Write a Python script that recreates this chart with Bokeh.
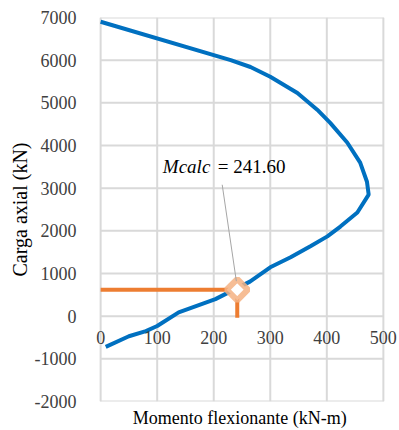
import math
from bokeh.plotting import figure
from bokeh.models import Range1d, FixedTicker, PrintfTickFormatter, ColumnDataSource, LabelSet
from bokeh.core.properties import value
from bokeh.embed import file_html
from bokeh.resources import INLINE

# Interaction diagram (Momento, Carga axial)
momento = [0, 230, 265, 300, 348, 383, 406, 436, 459, 471, 474, 454, 424, 401,
           371, 336, 300, 264, 203, 138, 100, 80, 50, 9]
carga = [6900, 6000, 5840, 5610, 5230, 4840, 4530, 4070, 3600, 3150, 2850, 2430,
         2100, 1870, 1640, 1380, 1145, 810, 400, 90, -230, -350, -470, -720]

# Design point
m_calc = 241.60
p_u = 620
p_low = -40

# Annotation
label_pos = [110, 3500]
eq_pos = [207, 3500]
leader_x = [215, 240]
leader_y = [3080, 820]

x_ticks = [0, 100, 200, 300, 400, 500]
x_tick_labels = ["0", "100", "200", "300", "400", "500"]
y_ticks = [-2000, -1000, 0, 1000, 2000, 3000, 4000, 5000, 6000, 7000]

FONT = "Liberation Serif"
GRID = "#D9D9D9"
PAD = 25  # room so the end tick labels on the y = 0 line are not cut

x_min, x_max = x_ticks[0], x_ticks[-1]
y_min, y_max = y_ticks[0], y_ticks[-1]

p = figure(width=399, height=430, x_range=Range1d(x_min - PAD, x_max + PAD),
           y_range=Range1d(y_min, y_max),
           output_backend="svg", toolbar_location=None,
           min_border_left=86, min_border_right=2, min_border_top=17, min_border_bottom=28)
p.outline_line_color = None
p.background_fill_color = "white"
p.border_fill_color = "white"
p.xgrid.grid_line_color = None
p.ygrid.grid_line_color = None

# grid lines (including the plot-area border), drawn from the tick lists
gx_v, gy_v = [], []
for x in x_ticks:
    gx_v += [x, x, math.nan]
    gy_v += [y_min, y_max, math.nan]
p.line(gx_v, gy_v, line_color=GRID, line_width=2)
# horizontal grid lines as thin filled bars spanning 0..500
p.rect(x=[(x_min + x_max) / 2] * len(y_ticks), y=y_ticks,
       width=x_max - x_min + 2, height=2, height_units="screen",
       fill_color=GRID, line_color=None)

# bottom axis: only carries the title; tick labels sit on the y = 0 line
xa = p.xaxis[0]
xa.ticker = FixedTicker(ticks=[])
xa.axis_line_color = None
xa.major_tick_line_color = None
xa.minor_tick_line_color = None
xa.major_label_text_font_size = "0px"
xa.axis_label = "Momento flexionante  (kN-m)"
xa.axis_label_standoff = 6
xa.axis_label_text_font = FONT
xa.axis_label_text_font_size = "18px"
xa.axis_label_text_font_style = "normal"
xa.axis_label_text_color = "#000000"

src = ColumnDataSource(dict(x=x_ticks, y=[0] * len(x_ticks), t=x_tick_labels))
p.add_layout(LabelSet(x="x", y="y", text="t", source=src, y_offset=-15,
                      text_align="center", text_baseline="top",
                      text_font=value(FONT), text_font_size="18px", text_color="#404040"))

ya = p.yaxis[0]
ya.ticker = FixedTicker(ticks=y_ticks)
ya.formatter = PrintfTickFormatter(format="%d")
ya.axis_line_color = None
ya.major_tick_line_color = None
ya.minor_tick_line_color = None
ya.major_label_standoff = 4
ya.major_label_text_font = FONT
ya.major_label_text_font_size = "18px"
ya.major_label_text_color = "#404040"
ya.axis_label = "Carga axial (kN)"
ya.axis_label_text_font = FONT
ya.axis_label_text_font_size = "20px"
ya.axis_label_text_font_style = "normal"
ya.axis_label_text_color = "#000000"
ya.axis_label_standoff = 1

# curve
p.line(momento, carga, line_color="#0070C0", line_width=4)

# orange guide lines
p.line([x_min, m_calc], [p_u, p_u], line_color="#ED7D31", line_width=4)
p.line([m_calc, m_calc], [p_u, p_low], line_color="#ED7D31", line_width=4)

# diamond marker
p.scatter([m_calc], [p_u], marker="square", size=15, angle=0.785398,
          fill_color="white", line_color="#F4B183", line_width=6, line_alpha=0.85)

# leader line
p.line(leader_x, leader_y, line_color="#A6A6A6", line_width=1)

# annotation text
p.text(x=[label_pos[0]], y=[label_pos[1]], text=["Mcalc"], text_font=value(FONT),
       text_font_style="italic", text_font_size="19px", text_baseline="alphabetic",
       text_align="left", text_color="#000000")
p.text(x=[eq_pos[0]], y=[eq_pos[1]], text=[f"= {m_calc:.2f}"], text_font=value(FONT),
       text_font_size="19px", text_baseline="alphabetic",
       text_align="left", text_color="#000000")

open("out.html", "w").write(file_html(p, INLINE))
